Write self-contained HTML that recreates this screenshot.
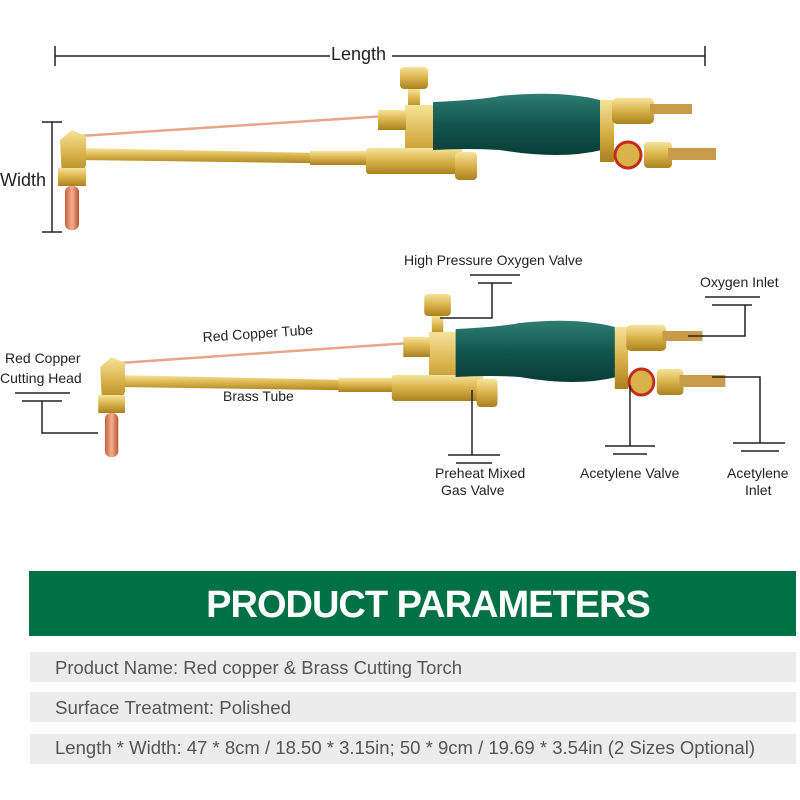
<!DOCTYPE html>
<html><head><meta charset="utf-8"><style>
body{margin:0;background:#fff;width:800px;height:800px;overflow:hidden;font-family:"Liberation Sans",sans-serif}
svg{position:absolute;left:0;top:0}
.t{font-family:"Liberation Sans",sans-serif;font-size:14px;fill:#222}
</style></head><body>
<svg width="800" height="800" viewBox="0 0 800 800">
<defs>
<linearGradient id="br" x1="0" y1="0" x2="0" y2="1"><stop offset="0" stop-color="#f6e39a"/><stop offset=".5" stop-color="#d9b24a"/><stop offset="1" stop-color="#a98220"/></linearGradient>
<linearGradient id="gr" x1="0" y1="0" x2="0" y2="1"><stop offset="0" stop-color="#2f7d72"/><stop offset=".5" stop-color="#11564e"/><stop offset="1" stop-color="#0a3d37"/></linearGradient>
<linearGradient id="cu" x1="0" y1="0" x2="1" y2="0"><stop offset="0" stop-color="#c8603e"/><stop offset=".5" stop-color="#f2b08e"/><stop offset="1" stop-color="#b85636"/></linearGradient>
<g id="torch">
 <line x1="80" y1="136" x2="385" y2="116" stroke="#e7a58a" stroke-width="2.5"/>
 <polygon points="78,148 370,154 370,164 78,160" fill="url(#br)"/>
 <rect x="310" y="151" width="60" height="14" fill="url(#br)"/>
 <path d="M60,140 L72,130 L86,136 L86,165 L80,178 L62,178 Z" fill="url(#br)"/>
 <rect x="58" y="168" width="28" height="18" fill="url(#br)"/>
 <rect x="65" y="186" width="14" height="44" rx="6" fill="url(#cu)"/>
 <rect x="400" y="67" width="28" height="22" rx="4" fill="url(#br)"/>
 <rect x="408" y="89" width="12" height="20" fill="url(#br)"/>
 <rect x="405" y="105" width="30" height="65" fill="url(#br)"/>
 <rect x="378" y="110" width="28" height="20" fill="url(#br)"/>
 <rect x="366" y="148" width="96" height="26" rx="3" fill="url(#br)"/>
 <rect x="455" y="152" width="22" height="28" rx="4" fill="url(#br)"/>
 <path d="M433,102 Q480,100 500,96 Q560,90 600,100 L602,150 Q560,160 500,150 Q470,148 433,150 Z" fill="url(#gr)"/>
 <rect x="600" y="100" width="14" height="62" fill="url(#br)"/>
 <rect x="612" y="98" width="42" height="26" rx="5" fill="url(#br)"/>
 <rect x="650" y="104" width="42" height="10" fill="#c99a4a"/>
 <circle cx="628" cy="155" r="13" fill="#d9b24a" stroke="#c42b1a" stroke-width="3"/>
 <rect x="644" y="142" width="28" height="26" rx="4" fill="url(#br)"/>
 <rect x="668" y="148" width="48" height="12" fill="#c99a4a"/>
</g>
</defs>
<line x1="55" y1="56" x2="330" y2="56" stroke="#222" stroke-width="1.5"/>
<line x1="392" y1="56" x2="705" y2="56" stroke="#222" stroke-width="1.5"/>
<line x1="55" y1="46" x2="55" y2="66" stroke="#222" stroke-width="1.5"/>
<line x1="705" y1="46" x2="705" y2="66" stroke="#222" stroke-width="1.5"/>
<text x="331" y="60" style="font-size:18px;fill:#222">Length</text>
<line x1="52" y1="122" x2="52" y2="232" stroke="#222" stroke-width="1.5"/>
<line x1="42" y1="122" x2="62" y2="122" stroke="#222" stroke-width="1.5"/>
<line x1="42" y1="232" x2="62" y2="232" stroke="#222" stroke-width="1.5"/>
<rect x="0" y="168" width="50" height="22" fill="#fff"/>
<text x="0" y="186" style="font-size:18px;fill:#222">Width</text>
<use href="#torch"/>
<use href="#torch" transform="translate(43,227) scale(0.953,1)"/>
<g stroke="#222" stroke-width="1.5" fill="none">
<line x1="470" y1="275" x2="520" y2="275"/><line x1="478" y1="283" x2="512" y2="283"/><polyline points="492,283 492,318 440,318"/>
<line x1="705" y1="297" x2="760" y2="297"/><line x1="712" y1="305" x2="752" y2="305"/><polyline points="745,305 745,336 688,336"/>
<line x1="15" y1="393" x2="70" y2="393"/><line x1="22" y1="401" x2="62" y2="401"/><polyline points="42,401 42,433 98,433"/>
<polyline points="472,390 472,455"/><line x1="448" y1="455" x2="500" y2="455"/><line x1="456" y1="463" x2="492" y2="463"/>
<polyline points="630,385 630,446"/><line x1="605" y1="446" x2="655" y2="446"/><line x1="613" y1="454" x2="647" y2="454"/>
<polyline points="712,377 760,377 760,443"/><line x1="733" y1="443" x2="785" y2="443"/><line x1="741" y1="451" x2="779" y2="451"/>
</g>
<text class="t" x="404" y="265">High Pressure Oxygen Valve</text>
<text class="t" x="700" y="287">Oxygen Inlet</text>
<text class="t" x="203" y="342" transform="rotate(-4 203 342)">Red Copper Tube</text>
<text class="t" x="5" y="363">Red Copper</text>
<text class="t" x="0" y="383">Cutting Head</text>
<text class="t" x="223" y="401">Brass Tube</text>
<text class="t" x="435" y="478">Preheat Mixed</text>
<text class="t" x="441" y="495">Gas Valve</text>
<text class="t" x="580" y="478">Acetylene Valve</text>
<text class="t" x="727" y="478">Acetylene</text>
<text class="t" x="745" y="495">Inlet</text>
<rect x="29" y="571" width="767" height="65" fill="#007144"/>
<text x="428" y="617" text-anchor="middle" style="font-size:38px;font-weight:bold;fill:#fff;letter-spacing:-1px">PRODUCT PARAMETERS</text>
<rect x="30" y="652" width="766" height="30" fill="#ececec"/>
<rect x="30" y="692" width="766" height="30" fill="#ececec"/>
<rect x="30" y="734" width="766" height="30" fill="#ececec"/>
<g style="font-size:18px;fill:#555">
<text x="55" y="674" textLength="407" lengthAdjust="spacingAndGlyphs">Product Name: Red copper &amp; Brass Cutting Torch</text>
<text x="55" y="714" textLength="236" lengthAdjust="spacingAndGlyphs">Surface Treatment: Polished</text>
<text x="55" y="754" textLength="700" lengthAdjust="spacingAndGlyphs">Length * Width: 47 * 8cm / 18.50 * 3.15in; 50 * 9cm / 19.69 * 3.54in (2 Sizes Optional)</text>
</g>
</svg>
</body></html>
